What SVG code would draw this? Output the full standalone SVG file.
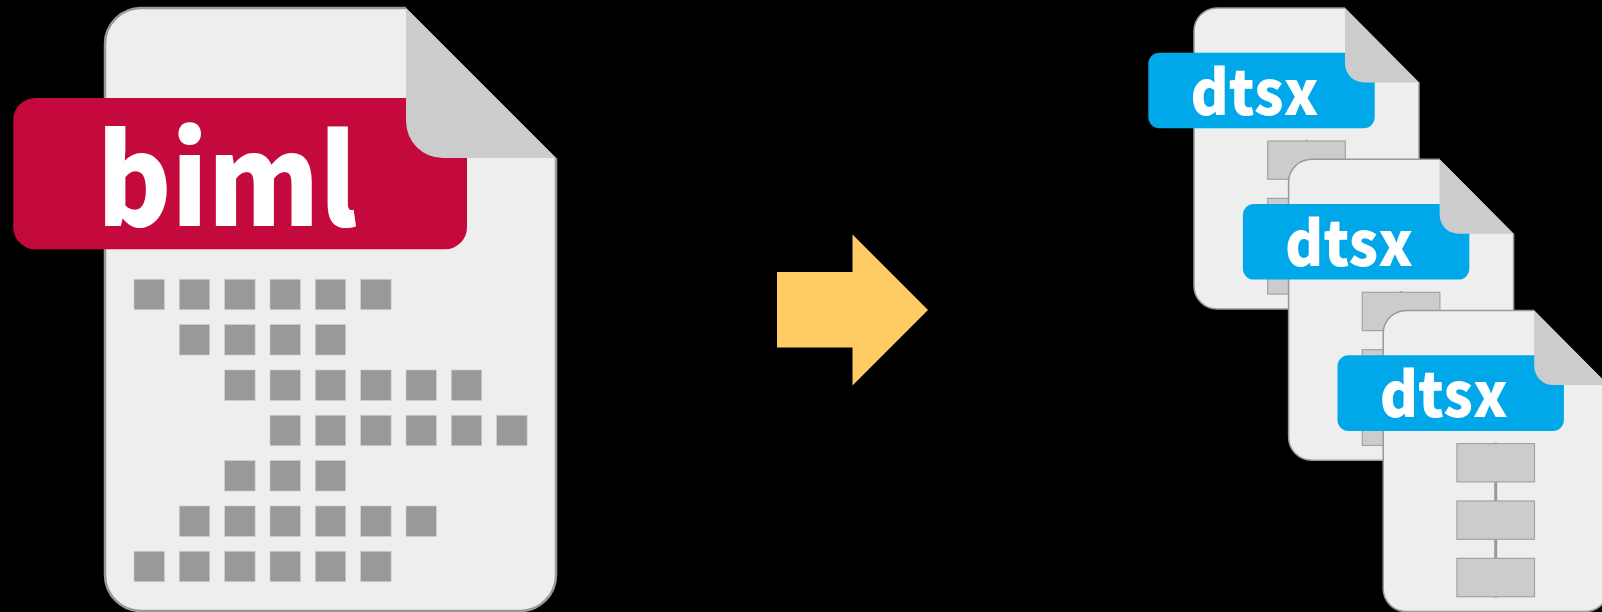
<svg xmlns="http://www.w3.org/2000/svg" width="1602" height="612" viewBox="0 0 1602 612">
<style>
.fold{fill:#ccc}
.sq{fill:#999;stroke:#ccc;stroke-width:.6}
.box{fill:#ccc;stroke:#a3a3a3;stroke-width:1.2}
.wire{stroke:#999;stroke-width:3}
.t{fill:#fff;font-family:"Noto Sans CJK JP","Noto Sans",sans-serif;font-weight:900}
</style>
<defs>
<g id="flow">
<path class="wire" d="M1306.5 140V295"/>
<rect class="box" x="1267.7" y="141" width="77.6" height="38.3"/>
<rect class="box" x="1267.7" y="198.4" width="77.6" height="38.3"/>
<rect class="box" x="1267.7" y="255.8" width="77.6" height="38.3"/>
</g>
<g id="dtsx-doc">
<path d="M1419 82.5V286a23 23 0 0 1-23 23H1217a23 23 0 0 1-23-23V31a23 23 0 0 1 23-23H1345Z" fill="#eee"/>
<path d="M1419 82.5V286a23 23 0 0 1-23 23H1217a23 23 0 0 1-23-23V31a23 23 0 0 1 23-23H1345" fill="none" stroke="#999" stroke-width="1.5"/>
<use href="#flow"/>
<rect x="1148.3" y="52.7" width="226.4" height="75.6" rx="11" fill="#00a7e9"/>
<path class="fold" d="M1345 8L1419 82.5H1364a19 19 0 0 1-19-19Z"/>
<text class="t" x="1190.5" y="114.6" font-size="62" textLength="128" lengthAdjust="spacingAndGlyphs">dtsx</text>
</g>
</defs>
<rect width="1602" height="612" fill="#000"/>
<g id="biml-doc">
<path d="M556 158V575a36 36 0 0 1-36 36H141a36 36 0 0 1-36-36V44a36 36 0 0 1 36-36H406Z" fill="#eee"/>
<path d="M556 158V575a36 36 0 0 1-36 36H141a36 36 0 0 1-36-36V44a36 36 0 0 1 36-36H406" fill="none" stroke="#999" stroke-width="2.5"/>
<rect x="13.3" y="98" width="453.7" height="151.3" rx="22" fill="#c40a3c"/>
<path class="fold" d="M406 8L556 158H443a37 37 0 0 1-37-37Z"/>
<text class="t" x="97" y="225.5" font-size="125" textLength="260" lengthAdjust="spacingAndGlyphs">biml</text>
<g id="biml-squares">
<rect class="sq" x="134" y="279.3" width="30.4" height="30.4"/><rect class="sq" x="179.3" y="279.3" width="30.4" height="30.4"/><rect class="sq" x="224.7" y="279.3" width="30.4" height="30.4"/><rect class="sq" x="270" y="279.3" width="30.4" height="30.4"/><rect class="sq" x="315.3" y="279.3" width="30.4" height="30.4"/><rect class="sq" x="360.7" y="279.3" width="30.4" height="30.4"/>
<rect class="sq" x="179.3" y="324.6" width="30.4" height="30.4"/><rect class="sq" x="224.7" y="324.6" width="30.4" height="30.4"/><rect class="sq" x="270" y="324.6" width="30.4" height="30.4"/><rect class="sq" x="315.3" y="324.6" width="30.4" height="30.4"/>
<rect class="sq" x="224.7" y="370" width="30.4" height="30.4"/><rect class="sq" x="270" y="370" width="30.4" height="30.4"/><rect class="sq" x="315.3" y="370" width="30.4" height="30.4"/><rect class="sq" x="360.7" y="370" width="30.4" height="30.4"/><rect class="sq" x="406" y="370" width="30.4" height="30.4"/><rect class="sq" x="451.3" y="370" width="30.4" height="30.4"/>
<rect class="sq" x="270" y="415.3" width="30.4" height="30.4"/><rect class="sq" x="315.3" y="415.3" width="30.4" height="30.4"/><rect class="sq" x="360.7" y="415.3" width="30.4" height="30.4"/><rect class="sq" x="406" y="415.3" width="30.4" height="30.4"/><rect class="sq" x="451.3" y="415.3" width="30.4" height="30.4"/><rect class="sq" x="496.7" y="415.3" width="30.4" height="30.4"/>
<rect class="sq" x="224.7" y="460.6" width="30.4" height="30.4"/><rect class="sq" x="270" y="460.6" width="30.4" height="30.4"/><rect class="sq" x="315.3" y="460.6" width="30.4" height="30.4"/>
<rect class="sq" x="179.3" y="506" width="30.4" height="30.4"/><rect class="sq" x="224.7" y="506" width="30.4" height="30.4"/><rect class="sq" x="270" y="506" width="30.4" height="30.4"/><rect class="sq" x="315.3" y="506" width="30.4" height="30.4"/><rect class="sq" x="360.7" y="506" width="30.4" height="30.4"/><rect class="sq" x="406" y="506" width="30.4" height="30.4"/>
<rect class="sq" x="134" y="551.3" width="30.4" height="30.4"/><rect class="sq" x="179.3" y="551.3" width="30.4" height="30.4"/><rect class="sq" x="224.7" y="551.3" width="30.4" height="30.4"/><rect class="sq" x="270" y="551.3" width="30.4" height="30.4"/><rect class="sq" x="315.3" y="551.3" width="30.4" height="30.4"/><rect class="sq" x="360.7" y="551.3" width="30.4" height="30.4"/>
</g>
</g>
<g id="connectors">
<path d="M777 272H852.5V234.5L928 310L852.5 385.5V347.5H777Z" fill="#ffcb65"/>
</g>
<g id="dtsx-1"><use href="#dtsx-doc"/></g>
<g id="dtsx-2" transform="translate(94.6 151.3)"><use href="#dtsx-doc"/></g>
<g id="dtsx-3" transform="translate(189.2 302.6)"><use href="#dtsx-doc"/></g>
</svg>
